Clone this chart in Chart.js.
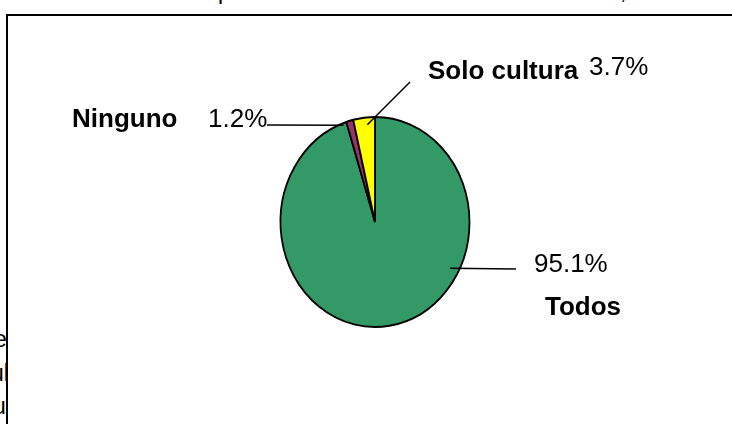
<!DOCTYPE html>
<html>
<head>
<meta charset="utf-8">
<script src="https://cdn.jsdelivr.net/npm/chart.js@4.4.1/dist/chart.umd.min.js"></script>
<style>
  body { margin: 0; width: 732px; height: 424px; overflow: hidden; background: #fff; font-family: "Liberation Sans", Arial, sans-serif; }
  .frag { position: absolute; font-size: 23px; color: #000; white-space: nowrap; }
  #box { position: absolute; left: 6px; top: 14px; width: 760px; height: 440px; border: 2px solid #000; background: #fff; }
  #chart { position: absolute; left: 0; top: 0; }
</style>
</head>
<body>
<!-- restos del texto del documento que queda detras del grafico -->
<div class="frag" style="left:218px; top:-22px;">p</div>
<div class="frag" style="left:620px; top:-22px;">,</div>
<div class="frag" style="left:-6px; top:326px;">e</div>
<div class="frag" style="left:-9px; top:360px;">ul</div>
<div class="frag" style="left:-7px; top:393px;">u</div>
<div id="box"></div>
<canvas id="chart" width="732" height="424"></canvas>
<script>
// Datos del grafico
const categorias = ["Todos", "Ninguno", "Solo cultura"];
const valores = [95.1, 1.2, 3.7];
const colores = ["#339966", "#993366", "#FFFF00"];

// Posicion de las etiquetas (angulo desde arriba, fraccion del radio, punto final de la linea, texto)
const etiquetas = [
  { ang: 119, r: 0.91, linea: [516, 269], pct: [534, 272], nombre: [545, 315] },
  { ang: -20, r: 0.98, linea: [267, 125], pct: [208, 127], nombre: [72, 127] },
  { ang: -5, r: 0.93, linea: [410, 82], pct: [589, 75], nombre: [428, 79] }
];

const escalaX = 0.9; // el pastel original es una elipse

const elipse = {
  id: "elipse",
  beforeDatasetsDraw(chart) {
    const arc = chart.getDatasetMeta(0).data[0];
    const ctx = chart.ctx;
    ctx.save();
    ctx.translate(arc.x, 0);
    ctx.scale(escalaX, 1);
    ctx.translate(-arc.x, 0);
  },
  afterDatasetsDraw(chart) {
    chart.ctx.restore();
  }
};

const rotulos = {
  id: "rotulos",
  afterDraw(chart) {
    const ctx = chart.ctx;
    const arc = chart.getDatasetMeta(0).data[0];
    const R = arc.outerRadius;
    ctx.save();
    ctx.strokeStyle = "#000";
    ctx.lineWidth = 1.5;
    ctx.fillStyle = "#000";
    ctx.textBaseline = "alphabetic";
    etiquetas.forEach((e, i) => {
      const a = e.ang * Math.PI / 180;
      const x0 = arc.x + Math.sin(a) * R * e.r * escalaX;
      const y0 = arc.y - Math.cos(a) * R * e.r;
      ctx.beginPath();
      ctx.moveTo(x0, y0);
      ctx.lineTo(e.linea[0], e.linea[1]);
      ctx.stroke();
      ctx.font = '26px "Liberation Sans", Arial, sans-serif';
      ctx.fillText(valores[i].toFixed(1) + "%", e.pct[0], e.pct[1]);
      ctx.font = 'bold 26px "Liberation Sans", Arial, sans-serif';
      ctx.fillText(categorias[i], e.nombre[0], e.nombre[1]);
    });
    ctx.restore();
  }
};

new Chart(document.getElementById("chart"), {
  type: "pie",
  data: {
    labels: categorias,
    datasets: [{
      data: valores,
      backgroundColor: colores,
      borderColor: "#000",
      borderWidth: 2
    }]
  },
  options: {
    responsive: false,
    animation: false,
    layout: { padding: { left: 269, right: 251, top: 116, bottom: 96 } },
    plugins: { legend: { display: false }, tooltip: { enabled: false } }
  },
  plugins: [elipse, rotulos]
});
</script>
</body>
</html>
